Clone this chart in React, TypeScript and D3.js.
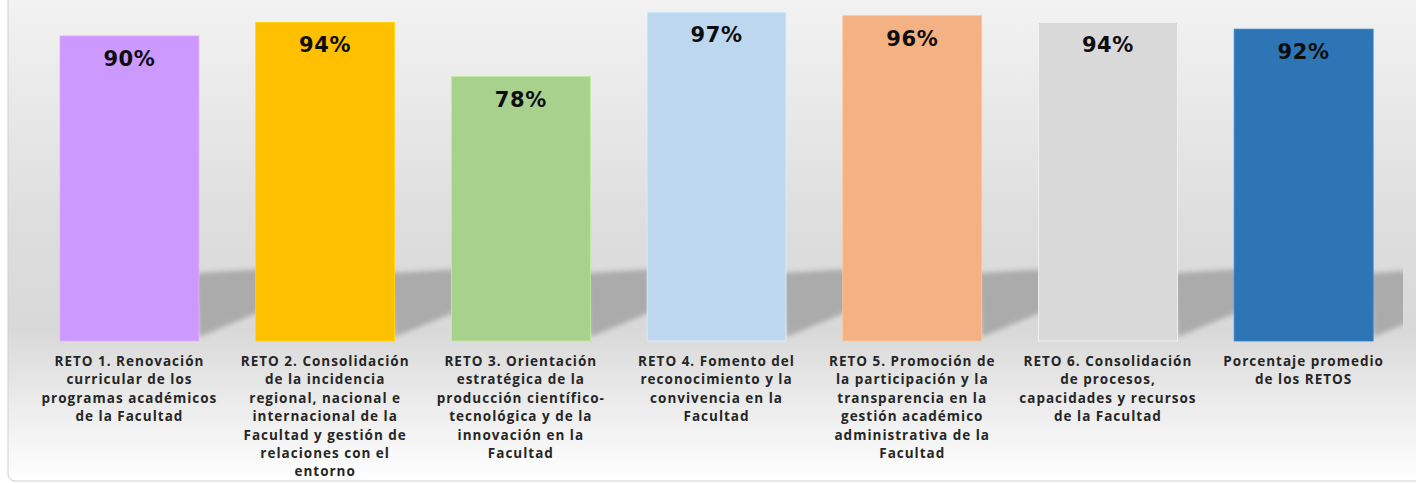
import React, { useEffect, useRef } from 'react';
import * as d3 from 'd3';

const categories = ['RETO 1', 'RETO 2', 'RETO 3', 'RETO 4', 'RETO 5', 'RETO 6', 'Promedio'];
const values = [90, 94, 78, 97, 96, 94, 92];
const barColors = ['#cc99ff', '#ffc000', '#a9d18e', '#bdd7ee', '#f4b183', '#d9d9d9', '#2e75b6'];
const labelLines = [
  ['RETO 1. Renovación', 'curricular de los', 'programas académicos', 'de la Facultad'],
  ['RETO 2. Consolidación', 'de la incidencia', 'regional, nacional e', 'internacional de la', 'Facultad y gestión de', 'relaciones con el', 'entorno'],
  ['RETO 3. Orientación', 'estratégica de la', 'producción científico-', 'tecnológica y de la', 'innovación en la', 'Facultad'],
  ['RETO 4. Fomento del', 'reconocimiento y la', 'convivencia en la', 'Facultad'],
  ['RETO 5. Promoción de', 'la participación y la', 'transparencia en la', 'gestión académico', 'administrativa de la', 'Facultad'],
  ['RETO 6. Consolidación', 'de procesos,', 'capacidades y recursos', 'de la Facultad'],
  ['Porcentaje promedio', 'de los RETOS'],
];

const W = 1416;
const H = 483;

const App: React.FC = () => {
  const svgRef = useRef<SVGSVGElement>(null);

  useEffect(() => {
    if (!svgRef.current) return;
    const svg = d3.select(svgRef.current);
    svg.selectAll('*').remove();

    const defs = svg.append('defs');
    const grad = defs.append('linearGradient').attr('id', 'bg').attr('x1', 0).attr('y1', 0).attr('x2', 0).attr('y2', 1);
    [[0, '#f4f4f4'], [0.5, '#dddddd'], [0.7, '#d9d9d9'], [0.85, '#ececec'], [1, '#ffffff']].forEach(([o, c]) =>
      grad.append('stop').attr('offset', o as number).attr('stop-color', c as string));

    defs.append('filter').attr('id', 'blur').attr('x', '-20%').attr('y', '-20%').attr('width', '140%').attr('height', '140%')
      .append('feGaussianBlur').attr('stdDeviation', 2.5);
    defs.append('clipPath').attr('id', 'plotClip')
      .append('rect').attr('x', 0).attr('y', 0).attr('width', 1403).attr('height', H);

    // chart area
    svg.append('rect')
      .attr('x', 8).attr('y', -20).attr('width', W + 20).attr('height', 501)
      .attr('rx', 7).attr('fill', 'url(#bg)').attr('stroke', '#cfcfcf').attr('stroke-width', 1);

    const x = d3.scaleBand<string>()
      .domain(categories)
      .range([31.6, 1401.5])
      .paddingInner(0.29)
      .paddingOuter(0.145);
    const y = d3.scaleLinear().domain([0, 100]).range([341, 2]);
    const base = y(0);

    // shadows
    const shadowG = svg.append('g').attr('clip-path', 'url(#plotClip)')
      .append('g').attr('filter', 'url(#blur)');
    categories.forEach((c) => {
      const r = x(c)! + x.bandwidth();
      const pts: [number, number][] = [
        [r - 4, 273], [r + 100, 267], [r + 100, 296], [r, 337],
      ];
      shadowG.append('polygon')
        .attr('points', pts.map((p) => p.join(',')).join(' '))
        .attr('fill', '#ababab');
    });

    // bars
    svg.append('g').selectAll('rect')
      .data(values)
      .enter().append('rect')
      .attr('x', (_, i) => x(categories[i])!)
      .attr('y', (d) => y(d))
      .attr('width', x.bandwidth())
      .attr('height', (d) => base - y(d))
      .attr('fill', (_, i) => barColors[i])
      .attr('stroke', (_, i) => d3.color(barColors[i])!.brighter(0.35).formatHex())
      .attr('stroke-width', 0.8);

    // value labels
    svg.append('g').selectAll('text')
      .data(values)
      .enter().append('text')
      .attr('x', (_, i) => x(categories[i])! + x.bandwidth() / 2)
      .attr('y', (d) => y(d) + 30)
      .attr('text-anchor', 'middle')
      .attr('fill', '#0d0d0d')
      .style('font-family', '"DejaVu Sans", sans-serif')
      .style('font-weight', '700')
      .style('font-size', '21px')
      .style('letter-spacing', '0.6px')
      .text((d) => `${d}%`);

    // category labels
    const lab = svg.append('g');
    categories.forEach((c, i) => {
      const cx = x(c)! + x.bandwidth() / 2;
      const t = lab.append('text')
        .attr('text-anchor', 'middle')
        .attr('fill', '#262626')
        .style('font-family', '"Open Sans", sans-serif')
        .style('font-weight', '700')
        .style('font-size', '13.5px')
        .style('letter-spacing', '1px');
      labelLines[i].forEach((line, j) => {
        t.append('tspan').attr('x', cx).attr('y', 366 + j * 18.4).text(line);
      });
    });
  }, []);

  return (
    <div style={{ position: 'absolute', left: 0, top: 0, width: W, height: H, background: '#fff' }}>
      <svg ref={svgRef} width={W} height={H} />
    </div>
  );
};

export default App;
